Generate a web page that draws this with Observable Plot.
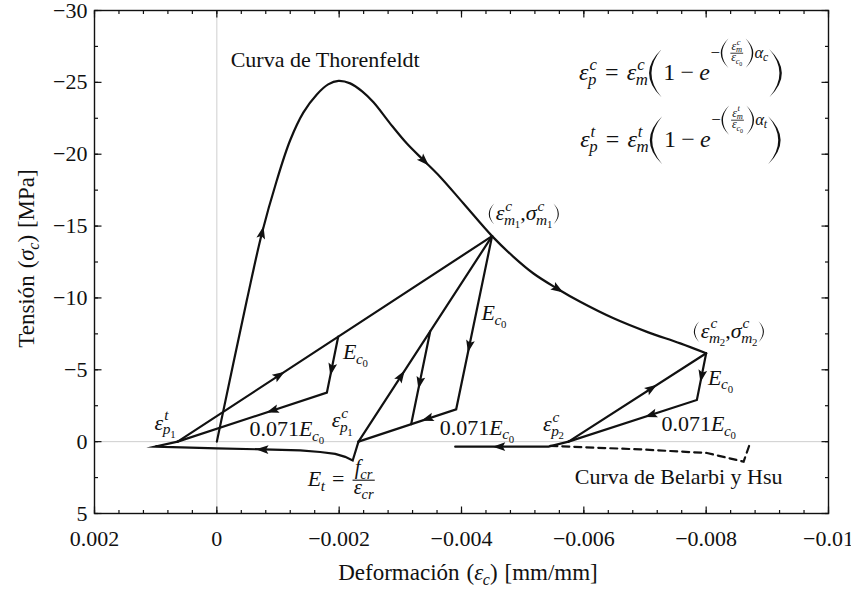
<!DOCTYPE html>
<html lang="es">
<head>
<meta charset="utf-8">
<script src="https://cdn.jsdelivr.net/npm/d3@7"></script>
<script src="https://cdn.jsdelivr.net/npm/@observablehq/plot@0.6"></script>
<style>
html,body{margin:0;padding:0;background:#fff;}
#chart svg{display:block;}
</style>
</head>
<body>
<div id="chart"></div>
<script>
// ---------------- data (strain [mm/mm], stress [MPa]) ----------------
const xTicks = [0.002, 0, -0.002, -0.004, -0.006, -0.008, -0.01];
const yTicks = [-30, -25, -20, -15, -10, -5, 0, 5];
const xMinorTicks = d3.range(0, 31).map(i => +(0.002 - i * 0.0004).toFixed(5));
const yMinorTicks = d3.range(0, 15).map(i => -30 + i * 2.5);

// Thorenfeldt envelope (compression)
const thorenfeldt = [
  [0, 0], [-0.000491, -9.85], [-0.000736, -14.48], [-0.000981, -18.19],
  [-0.001199, -20.97], [-0.001416, -22.91], [-0.001635, -24.16], [-0.00182, -24.86],
  [-0.001989, -25.1], [-0.00218, -24.93], [-0.002376, -24.37], [-0.002561, -23.61],
  [-0.002834, -22.13], [-0.003107, -20.74], [-0.003379, -19.58], [-0.003652, -18.42],
  [-0.004033, -16.57], [-0.0045, -14.3], [-0.00485, -12.86], [-0.005177, -11.7],
  [-0.00556, -10.66], [-0.005941, -9.73], [-0.006486, -8.58], [-0.007032, -7.64],
  [-0.007577, -6.84], [-0.008, -6.15]
];
// first unloading point m1 and cycles around it
const unloadM1 = [[-0.0045, -14.3], [-0.003913, -2.25], [-0.002316, 0]];
const reloadC1 = [[-0.002316, 0], [-0.0045, -14.3]];
const subLoopC1 = [[-0.003488, -7.67], [-0.003177, -1.21]];
const tensionBranch1 = [
  [-0.002316, 0], [-0.002221, 1.31], [-0.002098, 1.06], [-0.001935, 0.85],
  [-0.00169, 0.72], [-0.001362, 0.61], [-0.000757, 0.54], [0, 0.47],
  [0.001009, 0.35], [0.00064, 0]
];
const reloadT1 = [[0.00064, 0], [-0.0045, -14.3]];
const subLoopT1 = [[-0.001984, -7.3], [-0.001799, -3.41], [0.00064, 0]];
// second unloading point m2
const reloadC2 = [[-0.00575, 0], [-0.008, -6.15]];
const unloadM2 = [[-0.008, -6.15], [-0.007848, -2.9], [-0.00575, 0]];
const tensionBranch2 = [[-0.00575, 0], [-0.005423, 0.35], [-0.003897, 0.35]];
// Belarbi & Hsu tension curve (dashed)
const belarbiHsu = [[-0.005452, 0.3], [-0.006924, 0.54], [-0.008013, 0.79], [-0.008612, 1.39], [-0.008721, 0.07]];

// arrowheads: position along a named path (direction follows the path order)
const arrowMarks = [
  {path: "thorenfeldt", x: -0.000736, y: -14.48},
  {path: "thorenfeldt", x: -0.003379, y: -19.58},
  {path: "thorenfeldt", x: -0.00556, y: -10.66},
  {path: "reloadT1", x: -0.001007, y: -4.58},
  {path: "subLoopT1", x: -0.00188, y: -5.1},
  {path: "subLoopT1", x: -0.000926, y: -2.2},
  {path: "tensionBranch1", x: -0.000762, y: 0.54},
  {path: "reloadC1", x: -0.003, y: -4.52},
  {path: "subLoopC1", x: -0.003324, y: -4.17},
  {path: "unloadM1", x: -0.004115, y: -6.72},
  {path: "unloadM1", x: -0.00346, y: -1.6},
  {path: "reloadC2", x: -0.007086, y: -3.71},
  {path: "unloadM2", x: -0.007931, y: -4.64},
  {path: "unloadM2", x: -0.007114, y: -1.86},
  {path: "tensionBranch2", x: -0.004633, y: 0.35}
];

// text annotations (anchor point / baseline in data coordinates)
const annotations = [
  {key: "thorenfeldt", x: -0.000234, y: -26.06},
  {key: "belarbi", x: -0.005859, y: 3.01},
  {key: "m1", x: -0.004436, y: -15.4},
  {key: "m2", x: -0.007789, y: -7.2},
  {key: "Ec0", x: -0.004334, y: -8.45},
  {key: "Ec0", x: -0.00207, y: -5.73},
  {key: "Ec0", x: -0.00804, y: -3.94},
  {key: "E071", x: -0.000544, y: -0.35},
  {key: "E071", x: -0.003652, y: -0.46},
  {key: "E071", x: -0.007277, y: -0.69},
  {key: "ep1t", x: 0.001009, y: -0.81},
  {key: "ep1c", x: -0.001886, y: -0.95},
  {key: "ep2c", x: -0.00534, y: -0.69},
  {key: "Et", x: -0.001493, y: 3.13},
  {key: "epc", x: -0.007601, y: -25.14, anchor: "middle"},
  {key: "ept", x: -0.007601, y: -20.48, anchor: "middle"}
];

// ---------------- layout ----------------
const W = 851, H = 592, ML = 94, MR = 23, MT = 10, MB = 79;
const xDomain = [0.002, -0.01], yDomain = [5, -30];
const FONT = "Liberation Serif";
const FS = 22;
const INK = "#111";

const xs = Plot.scale({x: {domain: xDomain, range: [ML, W - MR]}});
const ys = Plot.scale({y: {domain: yDomain, range: [H - MB, MT]}});

const paths = {thorenfeldt, unloadM1, reloadC1, subLoopC1, tensionBranch1, reloadT1, subLoopT1, reloadC2, unloadM2, tensionBranch2};

// snap each arrow on its path and compute its screen direction
const arrows = arrowMarks.map(a => {
  const pts = paths[a.path].map(p => [xs.apply(p[0]), ys.apply(p[1])]);
  const px = xs.apply(a.x), py = ys.apply(a.y);
  let best = null;
  for (let i = 0; i < pts.length - 1; i++) {
    const [x0, y0] = pts[i], [x1, y1] = pts[i + 1];
    const dx = x1 - x0, dy = y1 - y0, L2 = dx * dx + dy * dy;
    if (!L2) continue;
    let t = ((px - x0) * dx + (py - y0) * dy) / L2;
    t = Math.max(0, Math.min(1, t));
    const qx = x0 + t * dx, qy = y0 + t * dy;
    const d = Math.hypot(px - qx, py - qy);
    if (!best || d < best.d) best = {d, qx, qy, dx, dy};
  }
  return {
    x: xs.invert(best.qx),
    y: ys.invert(best.qy),
    angle: Math.atan2(best.dx, -best.dy) * 180 / Math.PI
  };
});

const arrowSymbol = {draw(ctx) { ctx.moveTo(0, -7.5); ctx.lineTo(4.4, 5); ctx.lineTo(0, 2.6); ctx.lineTo(-4.4, 5); ctx.closePath(); }};
const tickSymbol = {draw(ctx, size) { const l = Math.sqrt(size / Math.PI); ctx.moveTo(0, 0); ctx.lineTo(0, -l); }};

const fmt = d => d === 0 ? "0" : (d < 0 ? "\u2212" : "") + String(+Math.abs(d).toFixed(5));

const lineOpts = {x: d => d[0], y: d => d[1], stroke: INK, strokeWidth: 2.2, strokeLinejoin: "miter", strokeMiterlimit: 10};
const tickOpts = (len, rot) => ({symbol: tickSymbol, r: len, rotate: rot, stroke: INK, strokeWidth: 1.2, fill: "none"});
const labelOpts = {text: fmt, fontFamily: FONT, fontSize: FS, fill: INK, stroke: null};

const plot = Plot.plot({
  width: W, height: H,
  marginLeft: ML, marginRight: MR, marginTop: MT, marginBottom: MB,
  style: {fontFamily: FONT, fontSize: FS + "px", color: INK, background: "white"},
  x: {domain: xDomain, axis: null},
  y: {domain: yDomain, axis: null},
  marks: [
    Plot.ruleX([0], {stroke: "#cfcfcf", strokeWidth: 1}),
    Plot.ruleY([0], {stroke: "#cfcfcf", strokeWidth: 1}),
    Plot.line(thorenfeldt, {...lineOpts, curve: "catmull-rom"}),
    Plot.line(unloadM1, lineOpts),
    Plot.line(reloadC1, lineOpts),
    Plot.line(subLoopC1, lineOpts),
    Plot.line(tensionBranch1, lineOpts),
    Plot.line(reloadT1, lineOpts),
    Plot.line(subLoopT1, lineOpts),
    Plot.line(reloadC2, lineOpts),
    Plot.line(unloadM2, lineOpts),
    Plot.line(tensionBranch2, lineOpts),
    Plot.line(belarbiHsu, {...lineOpts, strokeDasharray: "7,5"}),
    Plot.dot(arrows, {x: "x", y: "y", rotate: "angle", symbol: arrowSymbol, r: 5, fill: INK, stroke: "none"}),
    // inward ticks on all four sides
    Plot.dot(xMinorTicks, {x: d => d, y: () => 5, ...tickOpts(3.5, 0)}),
    Plot.dot(xMinorTicks, {x: d => d, y: () => -30, ...tickOpts(3.5, 180)}),
    Plot.dot(xTicks, {x: d => d, y: () => 5, ...tickOpts(7, 0)}),
    Plot.dot(xTicks, {x: d => d, y: () => -30, ...tickOpts(7, 180)}),
    Plot.dot(yMinorTicks, {y: d => d, x: () => 0.002, ...tickOpts(3.5, 90)}),
    Plot.dot(yMinorTicks, {y: d => d, x: () => -0.01, ...tickOpts(3.5, 270)}),
    Plot.dot(yTicks, {y: d => d, x: () => 0.002, ...tickOpts(7, 90)}),
    Plot.dot(yTicks, {y: d => d, x: () => -0.01, ...tickOpts(7, 270)}),
    // tick labels
    Plot.text(xTicks, {x: d => d, y: () => 5, dy: 25, textAnchor: "middle", ...labelOpts}),
    Plot.text(yTicks, {y: d => d, x: () => 0.002, dx: -7, textAnchor: "end", ...labelOpts}),
    Plot.frame({stroke: INK, strokeWidth: 1.4})
  ]
});
document.getElementById("chart").append(plot);
d3.select(plot).selectAll("text").style("font-family", FONT);

// ---------------- mini math typesetting for labels ----------------
const I = s => ({t: s, it: true});
const R = s => ({t: s});
const G = e => ({gap: e});
const P = (ch, size) => ({paren: ch, size});
const sc = (base, sup, sub, o = {}) => ({base: [].concat(base), sup: sup ? [].concat(sup) : null, sub: sub ? [].concat(sub) : null, ...o});
const idx = (l, n) => sc(I(l), null, R(n));
const Ec0 = () => sc(I("E"), null, sc(I("c"), null, R("0")));
function formula(k) {
  return {size: 24, nodes: [sc(I("ε"), I(k), I("p")), G(0.34), R("="), G(0.34), sc(I("ε"), I(k), I("m")), P("(", 2.0), R("1"), G(0.22), R("\u2212"), G(0.22),
    sc(I("e"), [R("\u2212"), P("(", 1.75), {frac: [sc(I("ε"), I(k), I("m"))], den: [sc(I("ε"), null, sc(I("c"), null, R("0")))], scale: 0.72}, P(")", 1.75), sc(I("α"), null, I(k))], null, {raise: 0.92, supKern: 0.02}),
    P(")", 2.0)]};
}
const math = {
  thorenfeldt: [R("Curva de Thorenfeldt")],
  belarbi: [R("Curva de Belarbi y Hsu")],
  m1: [P("(", 0.95), sc(I("ε"), I("c"), idx("m", "1")), R(","), sc(I("σ"), I("c"), idx("m", "1")), P(")", 0.95)],
  m2: [P("(", 0.95), sc(I("ε"), I("c"), idx("m", "2")), R(","), sc(I("σ"), I("c"), idx("m", "2")), P(")", 0.95)],
  Ec0: [Ec0()],
  E071: [R("0.071"), Ec0()],
  ep1t: [sc(I("ε"), I("t"), idx("p", "1"))],
  ep1c: [sc(I("ε"), I("c"), idx("p", "1"))],
  ep2c: [sc(I("ε"), I("c"), idx("p", "2"))],
  Et: [sc(I("E"), null, I("t")), G(0.32), R("="), G(0.32), {frac: [sc(I("f"), null, I("cr"))], den: [sc(I("ε"), null, I("cr"))], scale: 0.95}],
  epc: formula("c"),
  ept: formula("t")
};

function drawNodes(g, nodes, x, y, fs) { for (const n of nodes) x = drawNode(g, n, x, y, fs); return x; }
function drawNode(g, n, x, y, fs) {
  if (n.gap !== undefined) return x + n.gap * fs;
  if (n.t !== undefined) {
    const el = g.append("text").attr("x", x).attr("y", y).attr("font-size", fs).attr("text-anchor", "start").text(n.t);
    if (n.it) el.attr("font-style", "italic");
    return x + el.node().getComputedTextLength();
  }
  if (n.paren) {
    const h = n.size * fs, w = 0.26 * h, t = Math.max(1.1, 0.05 * h);
    const mid = y - 0.27 * fs, top = mid - h / 2, bot = mid + h / 2;
    const x0 = x + 0.05 * fs;
    let d;
    if (n.paren === "(") {
      const xe = x0 + w, xl = x0;
      const co = 2 * xl - xe, ci = 2 * (xl + t) - xe;
      d = `M${xe},${top}Q${co},${mid} ${xe},${bot}Q${ci},${mid} ${xe},${top}Z`;
    } else {
      const xe = x0, xr = x0 + w;
      const co = 2 * xr - xe, ci = 2 * (xr - t) - xe;
      d = `M${xe},${top}Q${co},${mid} ${xe},${bot}Q${ci},${mid} ${xe},${top}Z`;
    }
    g.append("path").attr("d", d).attr("fill", INK);
    return x0 + w + 0.07 * fs;
  }
  if (n.base) {
    const xb = drawNodes(g, n.base, x, y, fs);
    const ss = fs * 0.7;
    let e1 = xb, e2 = xb;
    if (n.sup) e1 = drawNodes(g, n.sup, xb + (n.supKern ?? 0.04) * fs, y - (n.raise ?? 0.42) * fs, ss);
    if (n.sub) e2 = drawNodes(g, n.sub, xb + (n.subKern ?? -0.02) * fs, y + (n.lower ?? 0.22) * fs, ss);
    return Math.max(e1, e2);
  }
  if (n.frac) {
    const fz = fs * (n.scale || 1);
    const gn = g.append("g"), gd = g.append("g");
    const wn = drawNodes(gn, n.frac, 0, 0, fz);
    const wd = drawNodes(gd, n.den, 0, 0, fz);
    const pad = 0.1 * fs, w = Math.max(wn, wd) + 2 * pad;
    const ax = y - 0.27 * fs;
    gn.attr("transform", `translate(${x + (w - wn) / 2},${ax - 0.3 * fz})`);
    gd.attr("transform", `translate(${x + (w - wd) / 2},${ax + 0.68 * fz})`);
    g.append("line").attr("x1", x + pad * 0.5).attr("x2", x + w - pad * 0.5).attr("y1", ax).attr("y2", ax)
      .attr("stroke", INK).attr("stroke-width", Math.max(0.8, 0.05 * fs));
    return x + w + 0.05 * fs;
  }
  return x;
}

const svg = d3.select(plot);
const layer = svg.append("g").attr("fill", INK).attr("text-anchor", "start").style("font-family", FONT);
for (const a of annotations) {
  const spec = math[a.key];
  const nodes = Array.isArray(spec) ? spec : spec.nodes;
  const size = Array.isArray(spec) ? FS : spec.size;
  const g = layer.append("g");
  const w = drawNodes(g, nodes, 0, 0, size);
  const shift = a.anchor === "middle" ? -w / 2 : a.anchor === "end" ? -w : 0;
  g.attr("transform", `translate(${xs.apply(a.x) + shift},${ys.apply(a.y)})`);
}

// axis titles
function centered(parent, nodes, fs) {
  const g = parent.append("g");
  const w = drawNodes(g, nodes, 0, 0, fs);
  g.attr("transform", `translate(${-w / 2},0)`);
}
const xTitle = layer.append("g").attr("transform", `translate(${(ML + W - MR) / 2 + 7},580)`);
centered(xTitle, [R("Deformación"), G(0.3), R("("), sc(I("ε"), null, I("c")), R(")"), G(0.3), R("[mm/mm]")], 23);
const yTitle = layer.append("g").attr("transform", `translate(34,${(MT + H - MB) / 2 - 3}) rotate(-90)`);
centered(yTitle, [R("Tensión"), G(0.3), R("("), sc(I("σ"), null, I("c")), R(")"), G(0.3), R("[MPa]")], 23);
</script>
</body>
</html>
